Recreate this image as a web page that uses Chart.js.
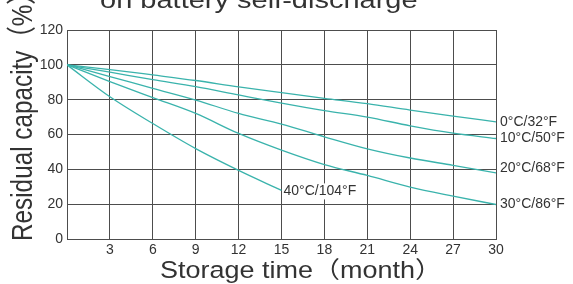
<!DOCTYPE html>
<html lang="en">
<head>
    <meta charset="UTF-8">
    <title>Temperature effect on battery self-discharge</title>
    <script src="https://cdn.jsdelivr.net/npm/chart.js"></script>
    <style>
        html, body { margin: 0; padding: 0; background: #fff; }
        .chart-container { position: relative; width: 573px; height: 284px; }
    </style>
</head>
<body>
    <div class="chart-container">
        <canvas id="dischargeChart"></canvas>
    </div>

    <script>
        // Data (residual capacity %, every 3 months)
        const months = [0, 3, 6, 9, 12, 15, 18, 21, 24, 27, 30];
        const cap0C  = [100, 97.3, 94.2, 91, 87.3, 84, 80.8, 77.7, 74, 70.6, 67.3];
        const cap10C = [100, 95.8, 91.5, 87.5, 82.7, 78, 73.7, 70, 65, 60.8, 57.7];
        const cap20C = [100, 93.3, 86.5, 79.8, 72.1, 66, 58.7, 51.8, 46.5, 42.3, 38];
        const cap30C = [100, 90.4, 81.2, 72.1, 60.6, 51, 42.7, 36.5, 29.8, 24.6, 19.8];
        const cap40C = [100, 81.7, 66.3, 51.9, 39.4, 27.9];
        const seriesNames = ['0°C/32°F', '10°C/50°F', '20°C/68°F', '30°C/86°F', '40°C/104°F'];
        const yTicks = [0, 20, 40, 60, 80, 100, 120];

        const titleText = 'on battery self-discharge';
        const xTitle = 'Storage time（month）';
        const yTitle = 'Residual capacity（%）';

        const TEAL = '#3ab3ac';
        const GRID = '#4d4d4d';
        const TEXT = '#333333';

        const allSeries = [cap0C, cap10C, cap20C, cap30C, cap40C];
        // label nudges (px) relative to the end of each curve
        const labelNudge = [[4, 0], [4, 0], [4, -5], [4, 0], [2, 1]];

        const datasets = allSeries.map((vals, i) => ({
            label: seriesNames[i],
            data: vals.map((v, j) => ({ x: months[j], y: v })),
            borderColor: TEAL,
            borderWidth: 1.3,
            pointRadius: 0,
            fill: false,
            cubicInterpolationMode: 'monotone'
        }));

        function drawScaled(ctx, text, x, y, font, sx, sy, rot) {
            ctx.save();
            ctx.translate(x, y);
            if (rot) ctx.rotate(rot);
            ctx.scale(sx, sy);
            ctx.font = font;
            ctx.fillText(text, 0, 0);
            ctx.restore();
        }

        const annotate = {
            id: 'annotate',
            afterDraw(chart) {
                const ctx = chart.ctx;
                const xs = chart.scales.x, ys = chart.scales.y;
                ctx.save();
                ctx.fillStyle = TEXT;
                ctx.textBaseline = 'middle';
                ctx.textAlign = 'left';
                ctx.font = "14px 'Liberation Sans', Arial, sans-serif";
                allSeries.forEach((vals, i) => {
                    const n = vals.length - 1;
                    const px = xs.getPixelForValue(months[n]) + labelNudge[i][0];
                    const py = ys.getPixelForValue(vals[n]) + labelNudge[i][1];
                    ctx.fillStyle = '#fff';
                    if (i === 4) ctx.fillRect(px, py - 8, ctx.measureText(seriesNames[i]).width + 2, 16);
                    ctx.fillStyle = TEXT;
                    ctx.fillText(seriesNames[i], px, py);
                });

                ctx.textBaseline = 'alphabetic';
                // chart title, cut off at the top edge like the source image
                drawScaled(ctx, titleText, 100, 8, "29px 'Liberation Sans', Arial, sans-serif", 1, 0.8, 0);
                // x axis title
                drawScaled(ctx, xTitle, 160, 278, "27px 'Liberation Sans', 'Noto Sans CJK SC', sans-serif", 1, 0.86, 0);
                // y axis title, rotated
                drawScaled(ctx, yTitle, 32, 241, "30px 'Liberation Sans', 'Noto Sans CJK SC', sans-serif", 0.81, 1, -Math.PI / 2);
                ctx.restore();
            }
        };

        const chart = new Chart(document.getElementById('dischargeChart'), {
            type: 'line',
            data: { datasets },
            plugins: [annotate],
            options: {
                responsive: true,
                maintainAspectRatio: false,
                animation: false,
                layout: { padding: { top: 30, right: 77, left: 0, bottom: 0 } },
                plugins: { legend: { display: false }, tooltip: { enabled: false } },
                scales: {
                    x: {
                        type: 'linear',
                        min: 0,
                        max: 30,
                        afterFit: (s) => { s.height = 45; },
                        afterBuildTicks: (s) => { s.ticks = months.map(v => ({ value: v })); },
                        ticks: {
                            padding: 3,
                            color: TEXT,
                            font: { family: "'Liberation Sans', Arial, sans-serif", size: 14 },
                            callback: (v) => v === 0 ? '' : v
                        },
                        grid: { color: GRID, lineWidth: 1, drawTicks: false },
                        border: { color: GRID, width: 1 }
                    },
                    y: {
                        min: 0,
                        max: 120,
                        afterFit: (s) => { s.width = 67; },
                        afterBuildTicks: (s) => { s.ticks = yTicks.map(v => ({ value: v })); },
                        ticks: {
                            padding: 4,
                            color: TEXT,
                            font: { family: "'Liberation Sans', Arial, sans-serif", size: 14 }
                        },
                        grid: { color: GRID, lineWidth: 1, drawTicks: false },
                        border: { color: GRID, width: 1 }
                    }
                }
            }
        });
    </script>
</body>
</html>
